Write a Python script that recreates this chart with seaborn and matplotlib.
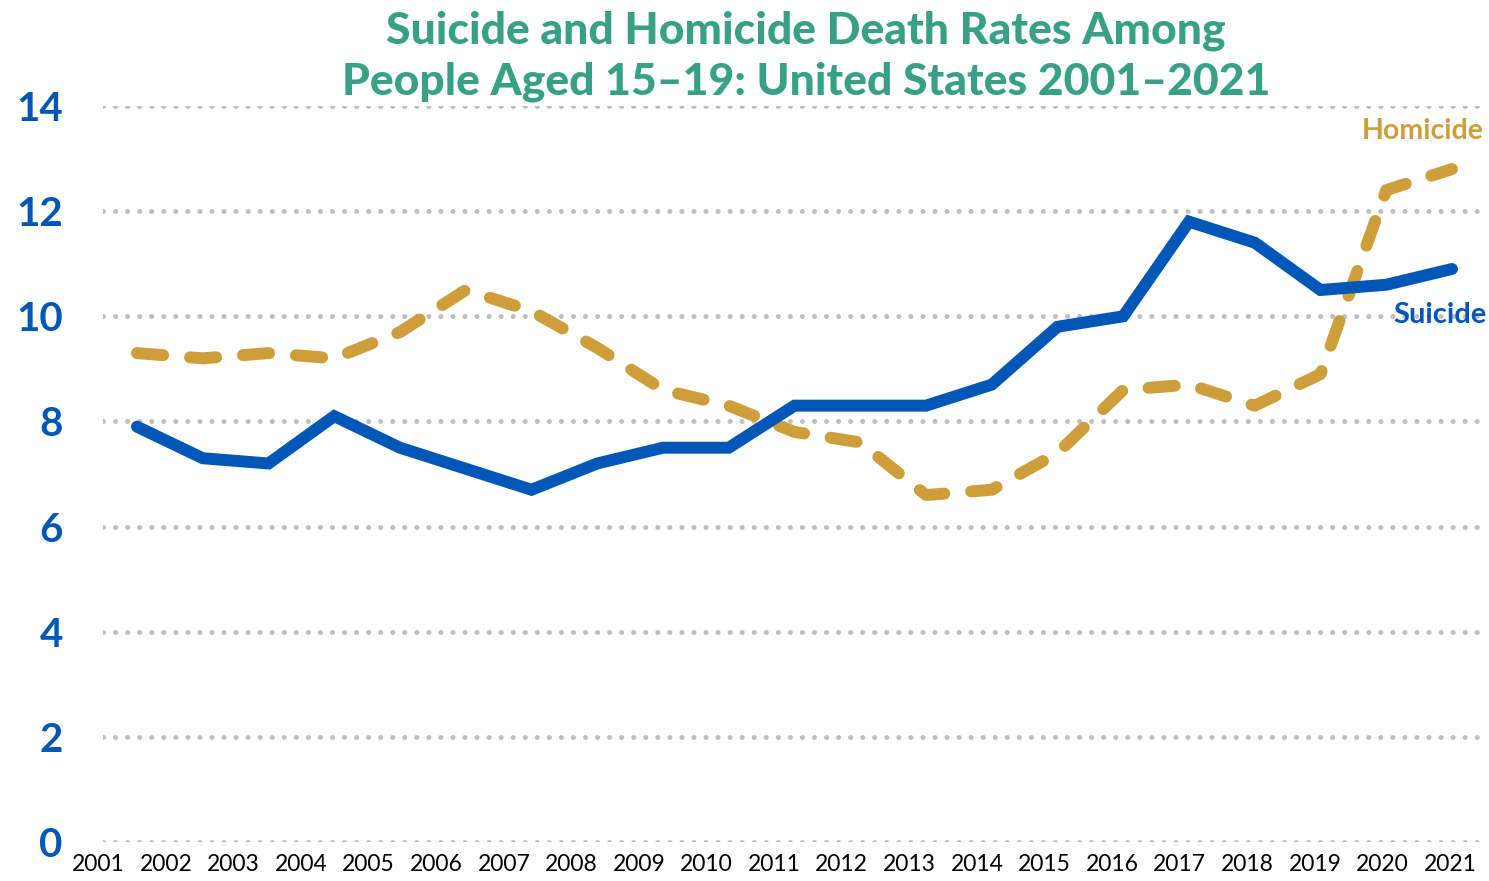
import matplotlib
matplotlib.use("Agg")
import matplotlib.pyplot as plt
import pandas as pd
import seaborn as sns

years = list(range(2001, 2022))
suicide = [7.9, 7.3, 7.2, 8.1, 7.5, 7.1, 6.7, 7.2, 7.5, 7.5, 8.3,
           8.3, 8.3, 8.7, 9.8, 10.0, 11.8, 11.4, 10.5, 10.6, 10.9]
homicide = [9.3, 9.2, 9.3, 9.2, 9.7, 10.5, 10.1, 9.4, 8.6, 8.3, 7.8,
            7.6, 6.6, 6.7, 7.4, 8.6, 8.7, 8.3, 8.9, 12.4, 12.8]
y_ticks = [0, 2, 4, 6, 8, 10, 12, 14]

title = "Suicide and Homicide Death Rates Among\nPeople Aged 15\u201319: United States 2001\u20132021"

BLUE = "#0057B8"
GOLD = "#CE9E3B"
GREEN = "#38A185"
GRID = "#BFBFBF"

df = pd.DataFrame({"Year": years, "Suicide": suicide, "Homicide": homicide})

sns.set_style("white")
plt.rcParams['font.family'] = ['Lato', 'DejaVu Sans']

fig = plt.figure(figsize=(14.89, 8.81), dpi=100)
W, H = 1489, 881
ax = fig.add_axes([103 / W, (H - 842) / H, (1480 - 103) / W, (842 - 106) / H])

# dotted horizontal grid
for yv in y_ticks:
	ax.axhline(yv, color=GRID, lw=3.6, linestyle=(0, (0.01, 2.4)),
			   dash_capstyle='round', zorder=0)

sns.lineplot(data=df, x="Year", y="Suicide", color=BLUE, lw=8.6, ax=ax,
			 solid_joinstyle='miter', solid_capstyle='round', zorder=3)
sns.lineplot(data=df, x="Year", y="Homicide", color=GOLD, lw=8.6, ax=ax,
			 dashes=False, zorder=2)
ax.lines[-1].set_linestyle((0, (2.2, 2.25)))
ax.lines[-1].set_dash_capstyle('round')

ax.set_xlim(2001 - 34 / 65.75, 2021 + 28 / 65.75)
ax.set_ylim(0, 14)
ax.set_yticks(y_ticks)
ax.set_yticklabels([str(v) for v in y_ticks], color=BLUE, fontsize=29,
				   fontweight='bold')
ax.tick_params(axis='y', length=0, pad=29)
ax.set_xticks([])
ax.set_xlabel("")
ax.set_ylabel("")
sns.despine(ax=ax, left=True, bottom=True)

# year labels (spaced slightly wider than the data points, as in the source)
for i, yr in enumerate(years):
	ax.text(2000.41 + 1.028 * i, -0.031, str(yr), transform=ax.get_xaxis_transform(),
			ha='center', va='center', fontsize=16.5, color='black',
			fontweight='normal', clip_on=False)

ax.text(2020.56, 13.52, "Homicide", color=GOLD, fontsize=20.5, fontweight='bold',
		ha='center', va='center')
ax.text(2020.82, 10.02, "Suicide", color=BLUE, fontsize=21, fontweight='bold',
		ha='center', va='center')

fig.text(806 / W, 1 - 56 / H, title, ha='center', va='center', color=GREEN,
		 fontsize=32, fontweight='black', linespacing=1.33)

fig.savefig("out.png", dpi=100)
